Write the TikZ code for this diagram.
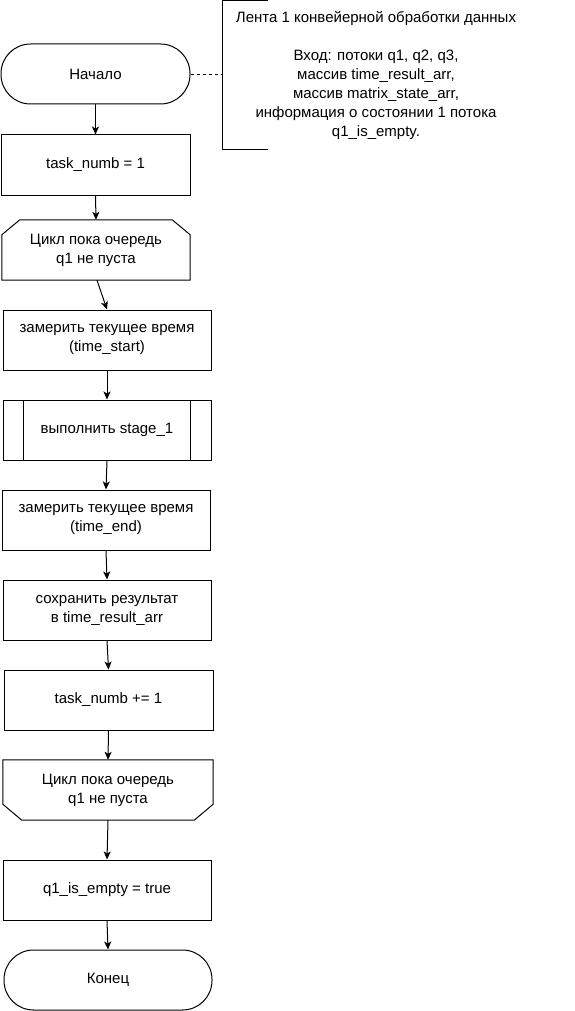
\documentclass[tikz,border=0pt]{standalone}
\usepackage{fontspec}
\setmainfont{Liberation Sans}
\usetikzlibrary{arrows.meta}
\begin{document}
\begin{tikzpicture}[x=1pt,y=-1pt,
  every node/.style={font=\fontsize{15}{19}\selectfont, align=center, inner sep=0pt},
  ln/.style={line width=1pt, draw=black},
  proc/.style={ln, draw, minimum width=208pt, minimum height=60pt},
  plainbox/.style={minimum width=208pt, minimum height=60pt},
  term/.style={ln, draw, rounded corners=29.5pt, minimum width=208pt, minimum height=60pt},
  arr/.style={ln, -{Stealth[length=8pt,width=7pt,inset=2pt]}}]
\useasboundingbox (0,0) rectangle (575,1011);

% nodes
\node[term, minimum width=189pt] (start) at (95.5,74) {Начало};
\node[proc, minimum width=189pt] (init) at (95.5,165) {task\_numb = 1};
\node[plainbox, minimum width=188pt] (loop1) at (96,250) {Цикл пока очередь\\q1 не пуста};
\node[proc] (t0) at (107,340) {замерить текущее время\\(time\_start)};
\node[proc] (stage) at (107,430) {выполнить stage\_1};
\node[proc] (t1) at (106,520) {замерить текущее время\\(time\_end)};
\node[proc] (save) at (107,610) {сохранить результат\\в time\_result\_arr};
\node[proc, minimum width=209pt] (inc) at (108.5,700) {task\_numb += 1};
\node[plainbox, minimum width=210pt] (loop2) at (108,790) {Цикл пока очередь\\q1 не пуста};
\node[proc] (empty) at (107,890) {q1\_is\_empty = true};
\node[term] (end) at (108,980) {Конец};

\node (note) at (376,75) {Лента 1 конвейерной обработки данных\\[19pt]Вход: потоки q1, q2, q3,\\массив time\_result\_arr,\\массив matrix\_state\_arr,\\информация о состоянии 1 потока\\q1\_is\_empty.};

% loop shapes
\draw[ln] (loop1.south west) -- ([yshift=-15pt]loop1.north west) -- ([xshift=18pt]loop1.north west)
  -- ([xshift=-18pt]loop1.north east) -- ([yshift=-15pt]loop1.north east) -- (loop1.south east) -- cycle;
\draw[ln] (loop2.north west) -- ([yshift=16pt]loop2.south west) -- ([xshift=19pt]loop2.south west)
  -- ([xshift=-19pt]loop2.south east) -- ([yshift=16pt]loop2.south east) -- (loop2.north east) -- cycle;

% subprocess inner lines
\draw[ln] ([xshift=21pt]stage.north west) -- ([xshift=21pt]stage.south west);
\draw[ln] ([xshift=-21pt]stage.north east) -- ([xshift=-21pt]stage.south east);

% annotation bracket
\coordinate (btr) at (268,1);
\coordinate (btl) at (222,1);
\coordinate (bbl) at (222,150);
\coordinate (bbr) at (268,150);
\draw[ln] (btr) -- (btl) -- (bbl) -- (bbr);
\draw[line width=0.8pt, dash pattern=on 3pt off 3pt] (start.east) -- (start.east -| btl);

% connectors
\draw[arr] (start.south) -- (init.north);
\draw[arr] (init.south) -- (loop1.north);
\draw[arr] ([xshift=1pt]loop1.south) -- (t0.north);
\draw[arr] (t0.south) -- (stage.north);
\draw[arr] (stage.south) -- (t1.north);
\draw[arr] (t1.south) -- (save.north);
\draw[arr] (save.south) -- (inc.north);
\draw[arr] (inc.south) -- (loop2.north);
\draw[arr] (loop2.south) -- (empty.north);
\draw[arr] (empty.south) -- (end.north);
\end{tikzpicture}
\end{document}
